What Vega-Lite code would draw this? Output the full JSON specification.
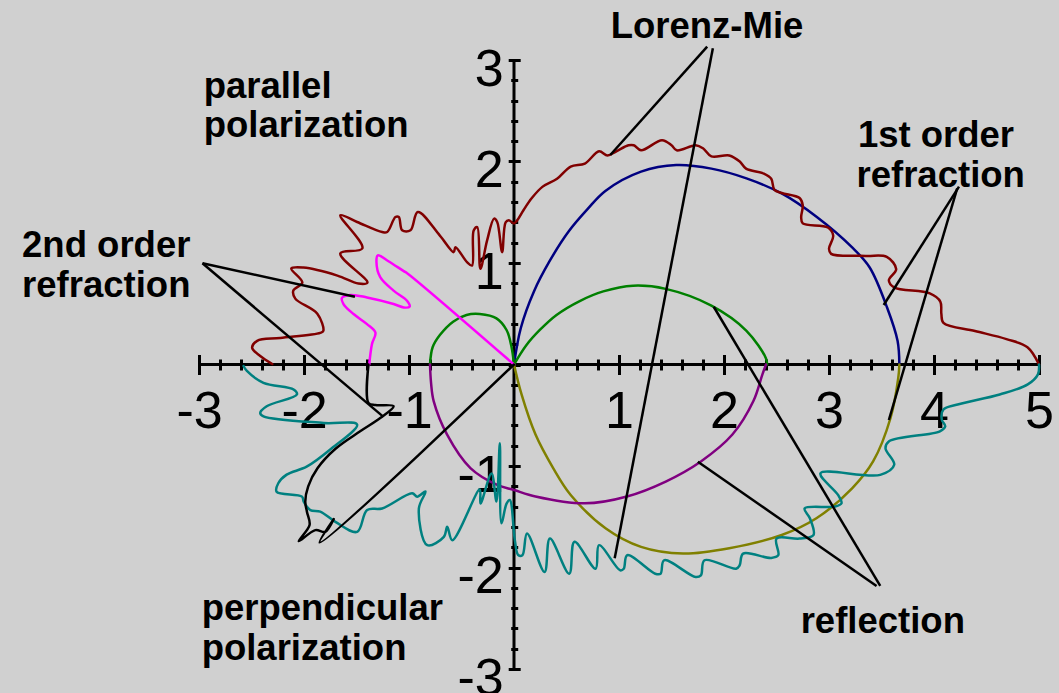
{
  "$schema": "https://vega.github.io/schema/vega-lite/v6.json",
  "width": 840,
  "height": 609,
  "autosize": {"type": "none"},
  "padding": {"left": 199, "top": 60, "right": 20, "bottom": 24},
  "background": "#d0d0d0",
  "config": {
    "view": {"stroke": null},
    "axis": {"labelFont": "Liberation Sans", "grid": false, "title": null},
    "text": {"font": "Liberation Sans"}
  },
  "datasets": {
    "smooth": [
      {"curve": "refr1_par", "i": 0, "x": 0, "y": 0},
      {"curve": "refr1_par", "i": 1, "x": 0.065, "y": 0.36},
      {"curve": "refr1_par", "i": 2, "x": 0.19, "y": 0.72},
      {"curve": "refr1_par", "i": 3, "x": 0.34, "y": 1.02},
      {"curve": "refr1_par", "i": 4, "x": 0.52, "y": 1.31},
      {"curve": "refr1_par", "i": 5, "x": 0.70, "y": 1.53},
      {"curve": "refr1_par", "i": 6, "x": 0.87, "y": 1.71},
      {"curve": "refr1_par", "i": 7, "x": 1.21, "y": 1.90},
      {"curve": "refr1_par", "i": 8, "x": 1.545, "y": 1.965},
      {"curve": "refr1_par", "i": 9, "x": 1.88, "y": 1.93},
      {"curve": "refr1_par", "i": 10, "x": 2.214, "y": 1.834},
      {"curve": "refr1_par", "i": 11, "x": 2.549, "y": 1.685},
      {"curve": "refr1_par", "i": 12, "x": 2.884, "y": 1.453},
      {"curve": "refr1_par", "i": 13, "x": 3.218, "y": 1.156},
      {"curve": "refr1_par", "i": 14, "x": 3.386, "y": 0.958},
      {"curve": "refr1_par", "i": 15, "x": 3.553, "y": 0.562},
      {"curve": "refr1_par", "i": 16, "x": 3.653, "y": 0.233},
      {"curve": "refr1_par", "i": 17, "x": 3.67, "y": 0},
      {"curve": "refr1_perp", "i": 0, "x": 0, "y": 0},
      {"curve": "refr1_perp", "i": 1, "x": 0.072, "y": -0.295},
      {"curve": "refr1_perp", "i": 2, "x": 0.205, "y": -0.69},
      {"curve": "refr1_perp", "i": 3, "x": 0.373, "y": -1.02},
      {"curve": "refr1_perp", "i": 4, "x": 0.54, "y": -1.285},
      {"curve": "refr1_perp", "i": 5, "x": 0.875, "y": -1.616},
      {"curve": "refr1_perp", "i": 6, "x": 1.21, "y": -1.797},
      {"curve": "refr1_perp", "i": 7, "x": 1.61, "y": -1.863},
      {"curve": "refr1_perp", "i": 8, "x": 2.05, "y": -1.81},
      {"curve": "refr1_perp", "i": 9, "x": 2.55, "y": -1.68},
      {"curve": "refr1_perp", "i": 10, "x": 2.88, "y": -1.515},
      {"curve": "refr1_perp", "i": 11, "x": 3.22, "y": -1.22},
      {"curve": "refr1_perp", "i": 12, "x": 3.42, "y": -0.955},
      {"curve": "refr1_perp", "i": 13, "x": 3.586, "y": -0.527},
      {"curve": "refr1_perp", "i": 14, "x": 3.66, "y": -0.13},
      {"curve": "refr1_perp", "i": 15, "x": 3.67, "y": 0},
      {"curve": "refl_par_a", "i": 0, "x": -0.80, "y": 0},
      {"curve": "refl_par_a", "i": 1, "x": -0.775, "y": 0.17},
      {"curve": "refl_par_a", "i": 2, "x": -0.706, "y": 0.29},
      {"curve": "refl_par_a", "i": 3, "x": -0.58, "y": 0.422},
      {"curve": "refl_par_a", "i": 4, "x": -0.452, "y": 0.488},
      {"curve": "refl_par_a", "i": 5, "x": -0.326, "y": 0.497},
      {"curve": "refl_par_a", "i": 6, "x": -0.167, "y": 0.455},
      {"curve": "refl_par_a", "i": 7, "x": -0.071, "y": 0.34},
      {"curve": "refl_par_a", "i": 8, "x": -0.024, "y": 0.175},
      {"curve": "refl_par_a", "i": 9, "x": 0, "y": 0},
      {"curve": "refl_par_b", "i": 0, "x": 0, "y": 0},
      {"curve": "refl_par_b", "i": 1, "x": 0.119, "y": 0.192},
      {"curve": "refl_par_b", "i": 2, "x": 0.246, "y": 0.34},
      {"curve": "refl_par_b", "i": 3, "x": 0.405, "y": 0.488},
      {"curve": "refl_par_b", "i": 4, "x": 0.626, "y": 0.625},
      {"curve": "refl_par_b", "i": 5, "x": 0.85, "y": 0.72},
      {"curve": "refl_par_b", "i": 6, "x": 1.134, "y": 0.776},
      {"curve": "refl_par_b", "i": 7, "x": 1.445, "y": 0.745},
      {"curve": "refl_par_b", "i": 8, "x": 1.88, "y": 0.58},
      {"curve": "refl_par_b", "i": 9, "x": 2.214, "y": 0.332},
      {"curve": "refl_par_b", "i": 10, "x": 2.40, "y": 0.06},
      {"curve": "refl_par_b", "i": 11, "x": 2.41, "y": 0},
      {"curve": "refl_perp", "i": 0, "x": -0.80, "y": 0},
      {"curve": "refl_perp", "i": 1, "x": -0.79, "y": -0.18},
      {"curve": "refl_perp", "i": 2, "x": -0.765, "y": -0.361},
      {"curve": "refl_perp", "i": 3, "x": -0.637, "y": -0.691},
      {"curve": "refl_perp", "i": 4, "x": -0.415, "y": -1.02},
      {"curve": "refl_perp", "i": 5, "x": -0.16, "y": -1.186},
      {"curve": "refl_perp", "i": 6, "x": 0, "y": -1.236},
      {"curve": "refl_perp", "i": 7, "x": 0.205, "y": -1.30},
      {"curve": "refl_perp", "i": 8, "x": 0.675, "y": -1.368},
      {"curve": "refl_perp", "i": 9, "x": 1.076, "y": -1.30},
      {"curve": "refl_perp", "i": 10, "x": 1.445, "y": -1.153},
      {"curve": "refl_perp", "i": 11, "x": 1.78, "y": -0.955},
      {"curve": "refl_perp", "i": 12, "x": 2.08, "y": -0.69},
      {"curve": "refl_perp", "i": 13, "x": 2.28, "y": -0.36},
      {"curve": "refl_perp", "i": 14, "x": 2.366, "y": -0.097},
      {"curve": "refl_perp", "i": 15, "x": 2.40, "y": 0}
    ],
    "wiggly": [
      {"curve": "mie_par", "i": 1, "x": 5.00, "y": 0.00},
      {"curve": "mie_par", "i": 2, "x": 4.89, "y": 0.17},
      {"curve": "mie_par", "i": 3, "x": 4.69, "y": 0.25},
      {"curve": "mie_par", "i": 4, "x": 4.39, "y": 0.33},
      {"curve": "mie_par", "i": 5, "x": 4.09, "y": 0.41},
      {"curve": "mie_par", "i": 6, "x": 4.07, "y": 0.50},
      {"curve": "mie_par", "i": 7, "x": 4.06, "y": 0.62},
      {"curve": "mie_par", "i": 8, "x": 3.96, "y": 0.70},
      {"curve": "mie_par", "i": 9, "x": 3.62, "y": 0.76},
      {"curve": "mie_par", "i": 10, "x": 3.57, "y": 0.83},
      {"curve": "mie_par", "i": 11, "x": 3.64, "y": 0.94},
      {"curve": "mie_par", "i": 12, "x": 3.55, "y": 1.06},
      {"curve": "mie_par", "i": 13, "x": 3.35, "y": 1.07},
      {"curve": "mie_par", "i": 14, "x": 3.02, "y": 1.09},
      {"curve": "mie_par", "i": 15, "x": 3.00, "y": 1.14},
      {"curve": "mie_par", "i": 16, "x": 3.04, "y": 1.27},
      {"curve": "mie_par", "i": 17, "x": 2.99, "y": 1.35},
      {"curve": "mie_par", "i": 18, "x": 2.75, "y": 1.39},
      {"curve": "mie_par", "i": 19, "x": 2.735, "y": 1.45},
      {"curve": "mie_par", "i": 20, "x": 2.75, "y": 1.57},
      {"curve": "mie_par", "i": 21, "x": 2.72, "y": 1.64},
      {"curve": "mie_par", "i": 22, "x": 2.55, "y": 1.69},
      {"curve": "mie_par", "i": 23, "x": 2.48, "y": 1.72},
      {"curve": "mie_par", "i": 24, "x": 2.45, "y": 1.83},
      {"curve": "mie_par", "i": 25, "x": 2.38, "y": 1.88},
      {"curve": "mie_par", "i": 26, "x": 2.21, "y": 1.93},
      {"curve": "mie_par", "i": 27, "x": 2.15, "y": 2.00},
      {"curve": "mie_par", "i": 28, "x": 2.05, "y": 2.06},
      {"curve": "mie_par", "i": 29, "x": 1.88, "y": 2.05},
      {"curve": "mie_par", "i": 30, "x": 1.80, "y": 2.13},
      {"curve": "mie_par", "i": 31, "x": 1.73, "y": 2.16},
      {"curve": "mie_par", "i": 32, "x": 1.55, "y": 2.11},
      {"curve": "mie_par", "i": 33, "x": 1.50, "y": 2.16},
      {"curve": "mie_par", "i": 34, "x": 1.41, "y": 2.21},
      {"curve": "mie_par", "i": 35, "x": 1.21, "y": 2.11},
      {"curve": "mie_par", "i": 36, "x": 1.14, "y": 2.16},
      {"curve": "mie_par", "i": 37, "x": 1.09, "y": 2.16},
      {"curve": "mie_par", "i": 38, "x": 0.975, "y": 2.10},
      {"curve": "mie_par", "i": 39, "x": 0.89, "y": 2.06},
      {"curve": "mie_par", "i": 40, "x": 0.81, "y": 2.10},
      {"curve": "mie_par", "i": 41, "x": 0.675, "y": 1.98},
      {"curve": "mie_par", "i": 42, "x": 0.54, "y": 1.95},
      {"curve": "mie_par", "i": 43, "x": 0.41, "y": 1.83},
      {"curve": "mie_par", "i": 44, "x": 0.27, "y": 1.75},
      {"curve": "mie_par", "i": 45, "x": 0.17, "y": 1.64},
      {"curve": "mie_par", "i": 46, "x": 0.09, "y": 1.52},
      {"curve": "mie_par", "i": 47, "x": 0.03, "y": 1.42},
      {"curve": "mie_par", "i": 48, "x": 0.0, "y": 1.39},
      {"curve": "mie_par", "i": 49, "x": -0.05, "y": 1.42},
      {"curve": "mie_par", "i": 50, "x": -0.08, "y": 1.40},
      {"curve": "mie_par", "i": 51, "x": -0.113, "y": 1.107},
      {"curve": "mie_par", "i": 52, "x": -0.16, "y": 1.404},
      {"curve": "mie_par", "i": 53, "x": -0.19, "y": 1.437},
      {"curve": "mie_par", "i": 54, "x": -0.256, "y": 1.223},
      {"curve": "mie_par", "i": 55, "x": -0.32, "y": 0.943},
      {"curve": "mie_par", "i": 56, "x": -0.35, "y": 1.354},
      {"curve": "mie_par", "i": 57, "x": -0.384, "y": 1.32},
      {"curve": "mie_par", "i": 58, "x": -0.40, "y": 0.975},
      {"curve": "mie_par", "i": 59, "x": -0.447, "y": 1.008},
      {"curve": "mie_par", "i": 60, "x": -0.558, "y": 1.156},
      {"curve": "mie_par", "i": 61, "x": -0.574, "y": 1.107},
      {"curve": "mie_par", "i": 62, "x": -0.706, "y": 1.27},
      {"curve": "mie_par", "i": 63, "x": -0.916, "y": 1.503},
      {"curve": "mie_par", "i": 64, "x": -0.986, "y": 1.322},
      {"curve": "mie_par", "i": 65, "x": -1.065, "y": 1.322},
      {"curve": "mie_par", "i": 66, "x": -1.097, "y": 1.453},
      {"curve": "mie_par", "i": 67, "x": -1.129, "y": 1.453},
      {"curve": "mie_par", "i": 68, "x": -1.208, "y": 1.305},
      {"curve": "mie_par", "i": 69, "x": -1.256, "y": 1.305},
      {"curve": "mie_par", "i": 70, "x": -1.494, "y": 1.404},
      {"curve": "mie_par", "i": 71, "x": -1.654, "y": 1.47},
      {"curve": "mie_par", "i": 72, "x": -1.444, "y": 1.144},
      {"curve": "mie_par", "i": 73, "x": -1.654, "y": 1.094},
      {"curve": "mie_par", "i": 74, "x": -1.396, "y": 0.807},
      {"curve": "mie_par", "i": 75, "x": -1.482, "y": 0.797},
      {"curve": "mie_par", "i": 76, "x": -1.682, "y": 0.876},
      {"curve": "mie_par", "i": 77, "x": -2.006, "y": 0.955},
      {"curve": "mie_par", "i": 78, "x": -2.121, "y": 0.946},
      {"curve": "mie_par", "i": 79, "x": -2.016, "y": 0.807},
      {"curve": "mie_par", "i": 80, "x": -2.102, "y": 0.728},
      {"curve": "mie_par", "i": 81, "x": -2.083, "y": 0.649},
      {"curve": "mie_par", "i": 82, "x": -1.873, "y": 0.50},
      {"curve": "mie_par", "i": 83, "x": -1.816, "y": 0.332},
      {"curve": "mie_par", "i": 84, "x": -1.845, "y": 0.312},
      {"curve": "mie_par", "i": 85, "x": -2.226, "y": 0.262},
      {"curve": "mie_par", "i": 86, "x": -2.446, "y": 0.233},
      {"curve": "mie_par", "i": 87, "x": -2.494, "y": 0.163},
      {"curve": "mie_par", "i": 88, "x": -2.417, "y": 0.084},
      {"curve": "mie_par", "i": 89, "x": -2.302, "y": 0.005},
      {"curve": "mie_perp", "i": 1, "x": -2.576, "y": -0.015},
      {"curve": "mie_perp", "i": 2, "x": -2.544, "y": -0.064},
      {"curve": "mie_perp", "i": 3, "x": -2.386, "y": -0.18},
      {"curve": "mie_perp", "i": 4, "x": -2.099, "y": -0.246},
      {"curve": "mie_perp", "i": 5, "x": -2.067, "y": -0.295},
      {"curve": "mie_perp", "i": 6, "x": -2.355, "y": -0.411},
      {"curve": "mie_perp", "i": 7, "x": -2.417, "y": -0.477},
      {"curve": "mie_perp", "i": 8, "x": -2.386, "y": -0.51},
      {"curve": "mie_perp", "i": 9, "x": -1.813, "y": -0.576},
      {"curve": "mie_perp", "i": 10, "x": -1.494, "y": -0.592},
      {"curve": "mie_perp", "i": 11, "x": -1.753, "y": -0.84},
      {"curve": "mie_perp", "i": 12, "x": -1.975, "y": -1.007},
      {"curve": "mie_perp", "i": 13, "x": -2.165, "y": -1.085},
      {"curve": "mie_perp", "i": 14, "x": -2.245, "y": -1.17},
      {"curve": "mie_perp", "i": 15, "x": -2.261, "y": -1.253},
      {"curve": "mie_perp", "i": 16, "x": -2.019, "y": -1.302},
      {"curve": "mie_perp", "i": 17, "x": -2.003, "y": -1.351},
      {"curve": "mie_perp", "i": 18, "x": -1.94, "y": -1.434},
      {"curve": "mie_perp", "i": 19, "x": -1.845, "y": -1.45},
      {"curve": "mie_perp", "i": 20, "x": -1.701, "y": -1.55},
      {"curve": "mie_perp", "i": 21, "x": -1.494, "y": -1.649},
      {"curve": "mie_perp", "i": 22, "x": -1.399, "y": -1.434},
      {"curve": "mie_perp", "i": 23, "x": -1.256, "y": -1.418},
      {"curve": "mie_perp", "i": 24, "x": -0.97, "y": -1.269},
      {"curve": "mie_perp", "i": 25, "x": -0.922, "y": -1.302},
      {"curve": "mie_perp", "i": 26, "x": -0.843, "y": -1.252},
      {"curve": "mie_perp", "i": 27, "x": -0.906, "y": -1.418},
      {"curve": "mie_perp", "i": 28, "x": -0.826, "y": -1.78},
      {"curve": "mie_perp", "i": 29, "x": -0.668, "y": -1.698},
      {"curve": "mie_perp", "i": 30, "x": -0.636, "y": -1.599},
      {"curve": "mie_perp", "i": 31, "x": -0.588, "y": -1.731},
      {"curve": "mie_perp", "i": 32, "x": -0.326, "y": -1.23},
      {"curve": "mie_perp", "i": 33, "x": -0.319, "y": -1.37},
      {"curve": "mie_perp", "i": 34, "x": -0.214, "y": -1.074},
      {"curve": "mie_perp", "i": 35, "x": -0.167, "y": -1.35},
      {"curve": "mie_perp", "i": 36, "x": -0.135, "y": -0.777},
      {"curve": "mie_perp", "i": 37, "x": -0.119, "y": -1.565},
      {"curve": "mie_perp", "i": 38, "x": -0.071, "y": -1.37},
      {"curve": "mie_perp", "i": 39, "x": -0.040, "y": -1.335},
      {"curve": "mie_perp", "i": 40, "x": 0.008, "y": -1.73},
      {"curve": "mie_perp", "i": 41, "x": 0.04, "y": -1.877},
      {"curve": "mie_perp", "i": 42, "x": 0.08, "y": -1.88},
      {"curve": "mie_perp", "i": 43, "x": 0.124, "y": -1.665},
      {"curve": "mie_perp", "i": 44, "x": 0.291, "y": -2.045},
      {"curve": "mie_perp", "i": 45, "x": 0.342, "y": -1.715},
      {"curve": "mie_perp", "i": 46, "x": 0.526, "y": -2.061},
      {"curve": "mie_perp", "i": 47, "x": 0.576, "y": -1.747},
      {"curve": "mie_perp", "i": 48, "x": 0.777, "y": -2.012},
      {"curve": "mie_perp", "i": 49, "x": 0.81, "y": -1.78},
      {"curve": "mie_perp", "i": 50, "x": 1.011, "y": -2.028},
      {"curve": "mie_perp", "i": 51, "x": 1.045, "y": -2.012},
      {"curve": "mie_perp", "i": 52, "x": 1.078, "y": -1.879},
      {"curve": "mie_perp", "i": 53, "x": 1.345, "y": -2.061},
      {"curve": "mie_perp", "i": 54, "x": 1.396, "y": -2.061},
      {"curve": "mie_perp", "i": 55, "x": 1.429, "y": -1.929},
      {"curve": "mie_perp", "i": 56, "x": 1.73, "y": -2.094},
      {"curve": "mie_perp", "i": 57, "x": 1.78, "y": -2.077},
      {"curve": "mie_perp", "i": 58, "x": 1.814, "y": -1.929},
      {"curve": "mie_perp", "i": 59, "x": 2.115, "y": -2.012},
      {"curve": "mie_perp", "i": 60, "x": 2.149, "y": -1.978},
      {"curve": "mie_perp", "i": 61, "x": 2.182, "y": -1.863},
      {"curve": "mie_perp", "i": 62, "x": 2.45, "y": -1.906},
      {"curve": "mie_perp", "i": 63, "x": 2.517, "y": -1.879},
      {"curve": "mie_perp", "i": 64, "x": 2.50, "y": -1.715},
      {"curve": "mie_perp", "i": 65, "x": 2.718, "y": -1.715},
      {"curve": "mie_perp", "i": 66, "x": 2.852, "y": -1.681},
      {"curve": "mie_perp", "i": 67, "x": 2.819, "y": -1.517},
      {"curve": "mie_perp", "i": 68, "x": 2.768, "y": -1.418},
      {"curve": "mie_perp", "i": 69, "x": 3.053, "y": -1.40},
      {"curve": "mie_perp", "i": 70, "x": 3.119, "y": -1.368},
      {"curve": "mie_perp", "i": 71, "x": 3.086, "y": -1.285},
      {"curve": "mie_perp", "i": 72, "x": 2.919, "y": -1.071},
      {"curve": "mie_perp", "i": 73, "x": 3.488, "y": -1.087},
      {"curve": "mie_perp", "i": 74, "x": 3.621, "y": -0.988},
      {"curve": "mie_perp", "i": 75, "x": 3.538, "y": -0.824},
      {"curve": "mie_perp", "i": 76, "x": 3.572, "y": -0.757},
      {"curve": "mie_perp", "i": 77, "x": 4.056, "y": -0.658},
      {"curve": "mie_perp", "i": 78, "x": 4.107, "y": -0.609},
      {"curve": "mie_perp", "i": 79, "x": 4.074, "y": -0.543},
      {"curve": "mie_perp", "i": 80, "x": 4.09, "y": -0.444},
      {"curve": "mie_perp", "i": 81, "x": 4.225, "y": -0.394},
      {"curve": "mie_perp", "i": 82, "x": 4.626, "y": -0.295},
      {"curve": "mie_perp", "i": 83, "x": 4.893, "y": -0.196},
      {"curve": "mie_perp", "i": 84, "x": 4.99, "y": -0.097},
      {"curve": "mie_perp", "i": 85, "x": 5.0, "y": 0.0},
      {"curve": "refr2_par", "i": 1, "x": 0, "y": 0},
      {"curve": "refr2_par", "i": 2, "x": -1.018, "y": 0.90},
      {"curve": "refr2_par", "i": 3, "x": -1.05, "y": 0.92},
      {"curve": "refr2_par", "i": 4, "x": -1.20, "y": 1.02},
      {"curve": "refr2_par", "i": 5, "x": -1.297, "y": 1.075},
      {"curve": "refr2_par", "i": 6, "x": -1.31, "y": 1.01},
      {"curve": "refr2_par", "i": 7, "x": -1.274, "y": 0.86},
      {"curve": "refr2_par", "i": 8, "x": -1.147, "y": 0.728},
      {"curve": "refr2_par", "i": 9, "x": -1.019, "y": 0.629},
      {"curve": "refr2_par", "i": 10, "x": -0.994, "y": 0.57},
      {"curve": "refr2_par", "i": 11, "x": -1.05, "y": 0.562},
      {"curve": "refr2_par", "i": 12, "x": -1.147, "y": 0.596},
      {"curve": "refr2_par", "i": 13, "x": -1.40, "y": 0.661},
      {"curve": "refr2_par", "i": 14, "x": -1.56, "y": 0.685},
      {"curve": "refr2_par", "i": 15, "x": -1.639, "y": 0.655},
      {"curve": "refr2_par", "i": 16, "x": -1.624, "y": 0.596},
      {"curve": "refr2_par", "i": 17, "x": -1.528, "y": 0.497},
      {"curve": "refr2_par", "i": 18, "x": -1.40, "y": 0.398},
      {"curve": "refr2_par", "i": 19, "x": -1.32, "y": 0.315},
      {"curve": "refr2_par", "i": 20, "x": -1.353, "y": 0.20},
      {"curve": "refr2_par", "i": 21, "x": -1.379, "y": 0},
      {"curve": "refr2_perp", "i": 1, "x": -1.386, "y": 0},
      {"curve": "refr2_perp", "i": 2, "x": -1.386, "y": -0.378},
      {"curve": "refr2_perp", "i": 3, "x": -1.32, "y": -0.40},
      {"curve": "refr2_perp", "i": 4, "x": -1.147, "y": -0.411},
      {"curve": "refr2_perp", "i": 5, "x": -1.274, "y": -0.527},
      {"curve": "refr2_perp", "i": 6, "x": -1.465, "y": -0.658},
      {"curve": "refr2_perp", "i": 7, "x": -1.70, "y": -0.83},
      {"curve": "refr2_perp", "i": 8, "x": -1.87, "y": -1.02},
      {"curve": "refr2_perp", "i": 9, "x": -1.96, "y": -1.20},
      {"curve": "refr2_perp", "i": 10, "x": -1.988, "y": -1.351},
      {"curve": "refr2_perp", "i": 11, "x": -1.972, "y": -1.45},
      {"curve": "refr2_perp", "i": 12, "x": -1.947, "y": -1.582},
      {"curve": "refr2_perp", "i": 13, "x": -2.05, "y": -1.741},
      {"curve": "refr2_perp", "i": 14, "x": -1.892, "y": -1.632},
      {"curve": "refr2_perp", "i": 15, "x": -1.797, "y": -1.649},
      {"curve": "refr2_perp", "i": 16, "x": -1.717, "y": -1.523},
      {"curve": "refr2_perp", "i": 17, "x": -1.851, "y": -1.754},
      {"curve": "refr2_perp", "i": 18, "x": 0, "y": 0}
    ],
    "pointers": [
      {"x": 1.840, "y": 3.131, "x2": 0.917, "y2": 2.064},
      {"x": 1.894, "y": 3.115, "x2": 0.959, "y2": -1.909},
      {"x": 4.238, "y": 1.752, "x2": 3.521, "y2": 0.586},
      {"x": 4.221, "y": 1.736, "x2": 3.570, "y2": -0.547},
      {"x": 1.751, "y": -0.958, "x2": 3.453, "y2": -2.182},
      {"x": 1.902, "y": 0.569, "x2": 3.488, "y2": -2.182},
      {"x": -2.967, "y": 0.997, "x2": -1.515, "y2": 0.668},
      {"x": -2.967, "y": 0.997, "x2": -1.246, "y2": -0.514}
    ],
    "labels": [
      {"label": "Lorenz-Mie", "x": 0.921, "y": 3.214},
      {"label": "parallel", "x": -2.955, "y": 2.623},
      {"label": "polarization", "x": -2.955, "y": 2.238},
      {"label": "1st order", "x": 3.275, "y": 2.143},
      {"label": "refraction", "x": 3.262, "y": 1.749},
      {"label": "2nd order", "x": -4.685, "y": 1.062},
      {"label": "refraction", "x": -4.685, "y": 0.668},
      {"label": "perpendicular", "x": -2.975, "y": -2.517},
      {"label": "polarization", "x": -2.975, "y": -2.911},
      {"label": "reflection", "x": 2.73, "y": -2.648}
    ]
  },
  "layer": [
    {
      "data": {"values": [{"v": 0}]},
      "mark": {"type": "rule", "stroke": "black", "strokeWidth": 3},
      "encoding": {
        "y": {"datum": 0, "type": "quantitative", "scale": {"domain": [-3, 3], "nice": false, "zero": false}, "axis": null}
      }
    },
    {
      "data": {"values": [{"v": 0}]},
      "mark": {"type": "rule", "stroke": "black", "strokeWidth": 3},
      "encoding": {
        "x": {"datum": 0, "type": "quantitative", "scale": {"domain": [-3, 5], "nice": false, "zero": false}, "axis": null}
      }
    },
    {
      "data": {"name": "smooth"},
      "mark": {"type": "line", "strokeWidth": 2.5, "interpolate": "catmull-rom", "strokeJoin": "round", "strokeCap": "round"},
      "encoding": {
        "x": {
          "field": "x", "type": "quantitative",
          "scale": {"domain": [-3, 5], "nice": false, "zero": false},
          "axis": {
            "orient": "bottom", "offset": -314.5, "values": [-3, -2, -1, 0, 1, 2, 3, 4, 5],
            "domain": false, "ticks": true, "tickSize": 20, "tickWidth": 3, "tickColor": "black",
            "labelFontSize": 52, "labelColor": "black", "labelPadding": 12, "labelBaseline": "top",
            "labelAlign": "center", "labelFlush": false, "labelOverlap": false, "labelBound": false,
            "labelExpr": "datum.value == 0 ? '' : (datum.value < 0 ? '-' + abs(datum.value) : '' + datum.value)"
          }
        },
        "y": {
          "field": "y", "type": "quantitative",
          "scale": {"domain": [-3, 3], "nice": false, "zero": false},
          "axis": {
            "orient": "left", "offset": -321.2, "values": [-3, -2, -1, 0, 1, 2, 3],
            "domain": false, "ticks": true, "tickSize": 12, "tickWidth": 3, "tickColor": "black",
            "labelFontSize": 52, "labelColor": "black", "labelPadding": 5, "labelOffset": 9,
            "labelBaseline": "middle", "labelAlign": "right", "labelFlush": false, "labelOverlap": false, "labelBound": false,
            "labelExpr": "datum.value == 0 ? '' : (datum.value < 0 ? '-' + abs(datum.value) : '' + datum.value)"
          }
        },
        "color": {
          "field": "curve", "type": "nominal", "legend": null,
          "scale": {
            "domain": ["mie_par", "mie_perp", "refr1_par", "refr1_perp", "refl_par_a", "refl_par_b", "refl_perp", "refr2_par", "refr2_perp"],
            "range": ["#800000", "#008080", "#000080", "#808000", "#008000", "#008000", "#800080", "#ff00ff", "#000000"]
          }
        },
        "order": {"field": "i", "type": "quantitative"}
      }
    },
    {
      "data": {"name": "wiggly"},
      "mark": {"type": "line", "strokeWidth": 2.5, "interpolate": "catmull-rom", "strokeJoin": "round", "strokeCap": "round"},
      "encoding": {
        "x": {"field": "x", "type": "quantitative", "scale": {"domain": [-3, 5], "nice": false, "zero": false}, "axis": null},
        "y": {"field": "y", "type": "quantitative", "scale": {"domain": [-3, 3], "nice": false, "zero": false}, "axis": null},
        "color": {"field": "curve", "type": "nominal", "legend": null},
        "order": {"field": "i", "type": "quantitative"}
      }
    },
    {
      "data": {"name": "pointers"},
      "mark": {"type": "rule", "stroke": "black", "strokeWidth": 2.5},
      "encoding": {
        "x": {
          "field": "x", "type": "quantitative",
          "scale": {"domain": [-3, 5], "nice": false, "zero": false},
          "axis": {
            "orient": "bottom", "offset": -310, "labels": false, "domain": false, "ticks": true,
            "tickSize": 11, "tickWidth": 3, "tickColor": "black",
            "values": [-2.8, -2.6, -2.4, -2.2, -1.8, -1.6, -1.4, -1.2, -0.8, -0.6, -0.4, -0.2, 0.2, 0.4, 0.6, 0.8, 1.2, 1.4, 1.6, 1.8, 2.2, 2.4, 2.6, 2.8, 3.2, 3.4, 3.6, 3.8, 4.2, 4.4, 4.6, 4.8]
          }
        },
        "x2": {"field": "x2"},
        "y": {
          "field": "y", "type": "quantitative",
          "scale": {"domain": [-3, 3], "nice": false, "zero": false},
          "axis": {
            "orient": "left", "offset": -318.7, "labels": false, "domain": false, "ticks": true,
            "tickSize": 7, "tickWidth": 3, "tickColor": "black",
            "values": [-2.8, -2.6, -2.4, -2.2, -1.8, -1.6, -1.4, -1.2, -0.8, -0.6, -0.4, -0.2, 0.2, 0.4, 0.6, 0.8, 1.2, 1.4, 1.6, 1.8, 2.2, 2.4, 2.6, 2.8]
          }
        },
        "y2": {"field": "y2"}
      }
    },
    {
      "data": {"name": "labels"},
      "mark": {"type": "text", "align": "left", "baseline": "alphabetic", "fontSize": 36.5, "fontWeight": "bold", "color": "black"},
      "encoding": {
        "x": {"field": "x", "type": "quantitative", "scale": {"domain": [-3, 5], "nice": false, "zero": false}, "axis": null},
        "y": {"field": "y", "type": "quantitative", "scale": {"domain": [-3, 3], "nice": false, "zero": false}, "axis": null},
        "text": {"field": "label"}
      }
    }
  ],
  "resolve": {"axis": {"x": "independent", "y": "independent"}}
}
